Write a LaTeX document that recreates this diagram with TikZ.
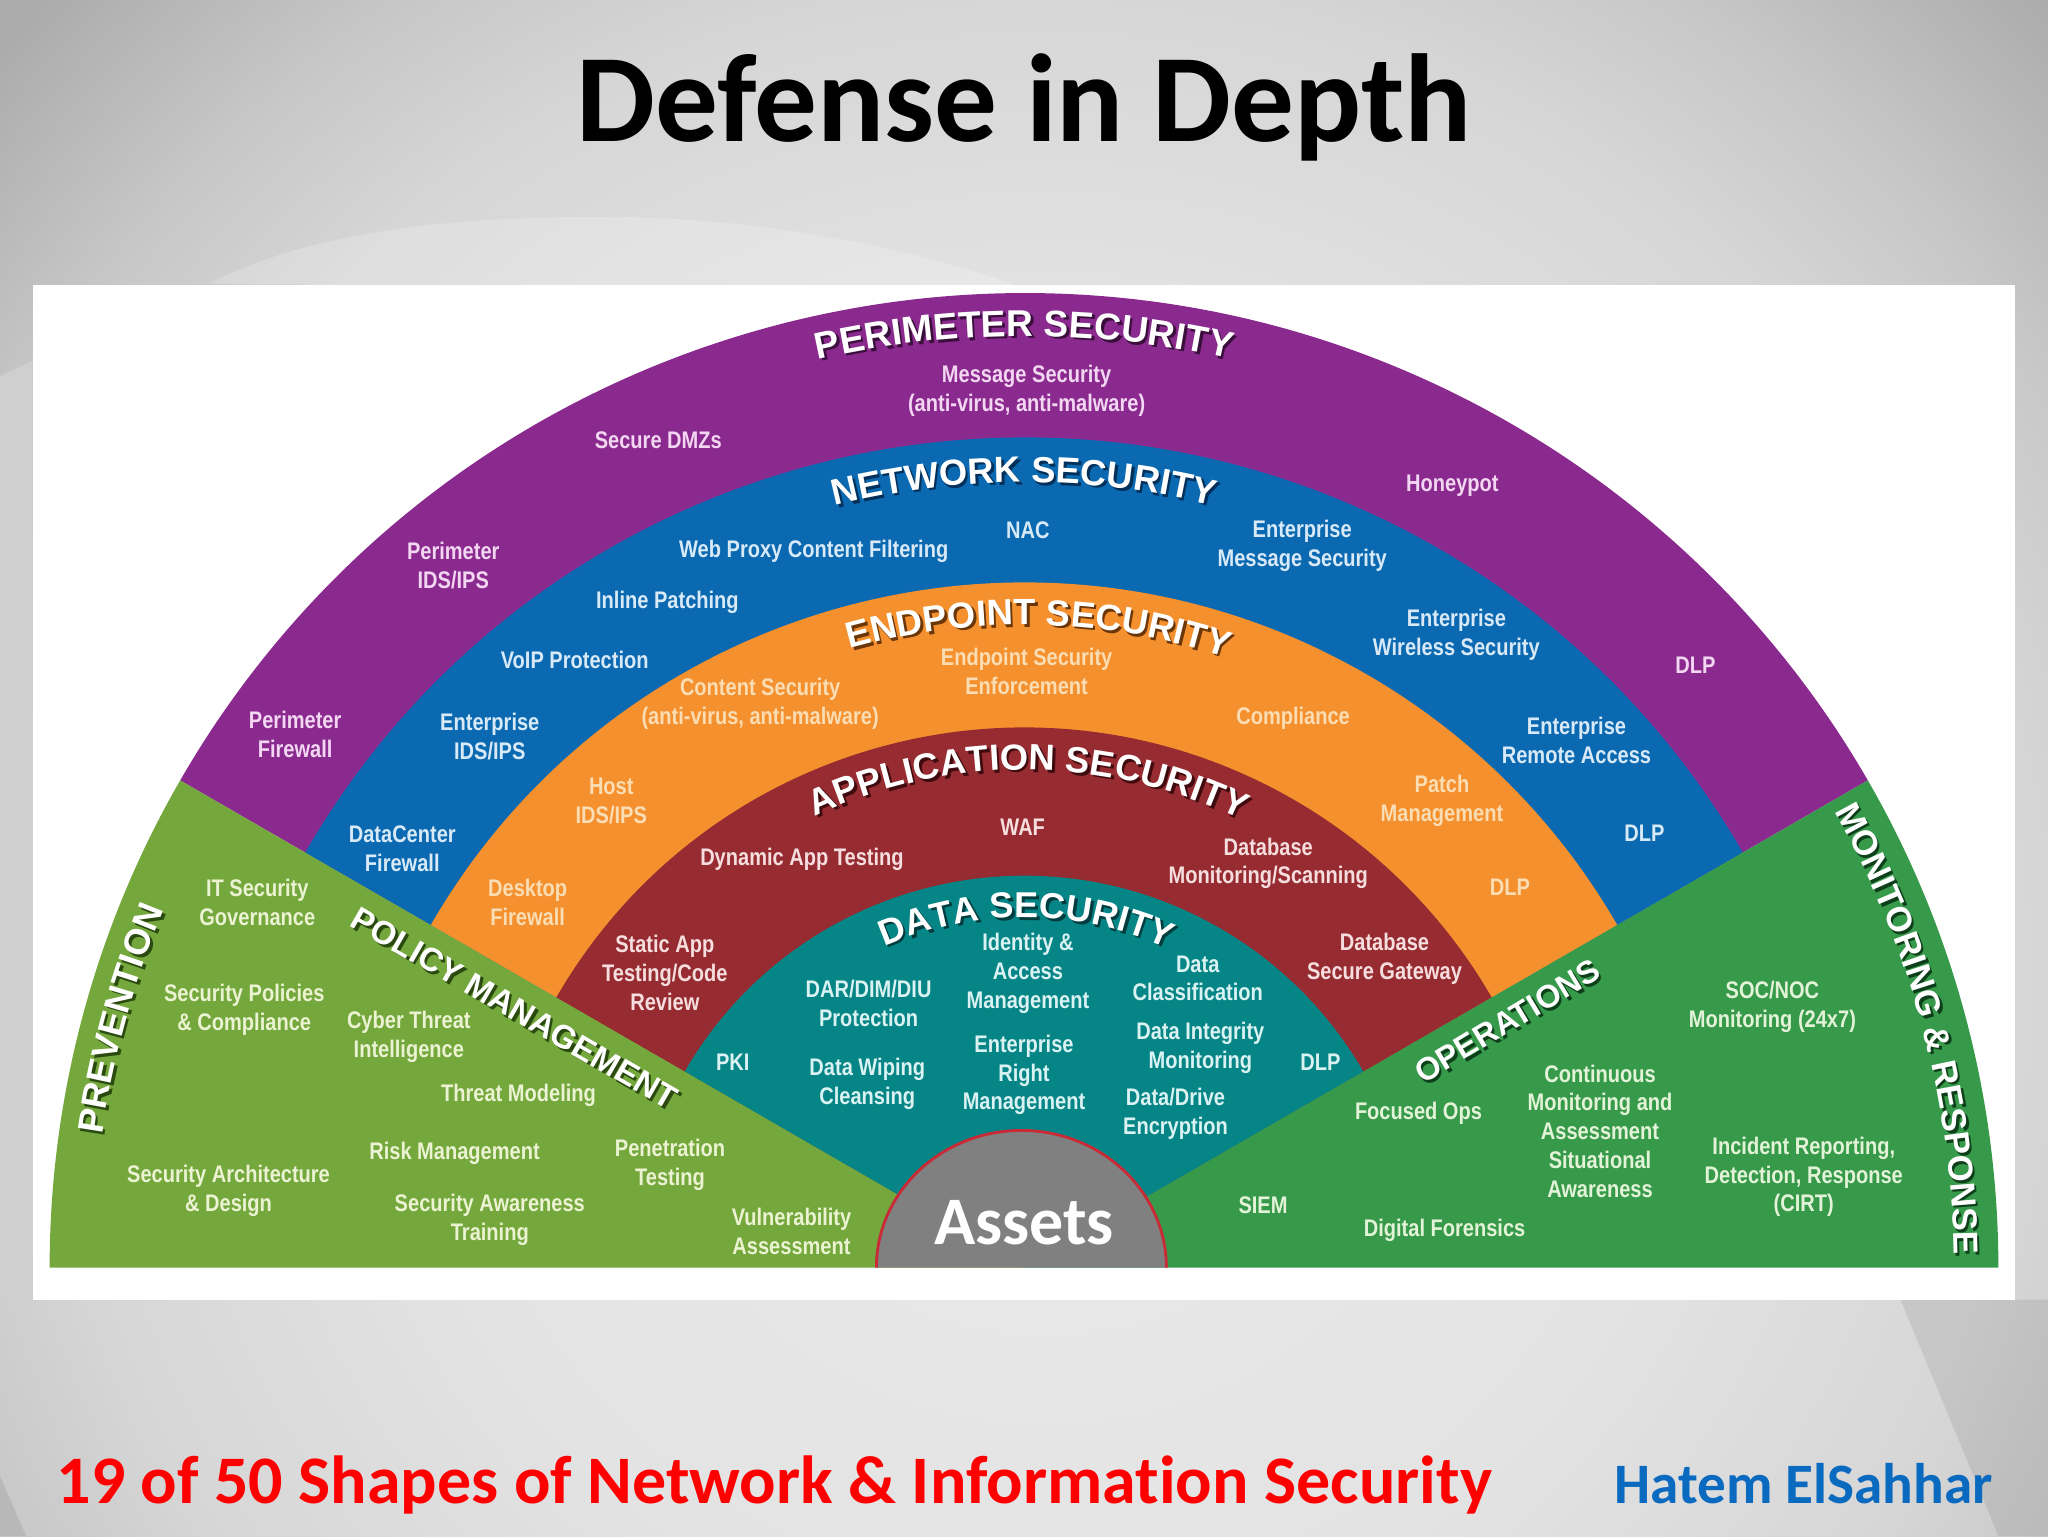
\documentclass[tikz,border=0pt]{standalone}
\usepackage{fontspec}
\usetikzlibrary{decorations.text}
\setmainfont{Liberation Sans}
\newfontfamily\labf[FakeStretch=0.835]{Liberation Sans}
\newfontfamily\headf{Liberation Sans}
\newfontfamily\slidef[Ligatures=NoCommon]{Carlito}
\definecolor{cPurple}{HTML}{8B2A8E}
\definecolor{cBlue}{HTML}{0A69B0}
\definecolor{cOrange}{HTML}{F5902E}
\definecolor{cMaroon}{HTML}{962B31}
\definecolor{cTeal}{HTML}{068587}
\definecolor{cGreenL}{HTML}{74A73C}
\definecolor{cGreenR}{HTML}{379A4A}
\definecolor{tPurple}{HTML}{F2D6F2}
\definecolor{tBlue}{HTML}{D8E9F7}
\definecolor{tOrange}{HTML}{FBDDB4}
\definecolor{tMaroon}{HTML}{F6DEDE}
\definecolor{tTeal}{HTML}{DAF2F2}
\definecolor{tGreenL}{HTML}{EBF3D2}
\definecolor{tGreenR}{HTML}{E3F3D8}
\definecolor{sPurple}{HTML}{3A0F3C}
\definecolor{sBlue}{HTML}{03305A}
\definecolor{sOrange}{HTML}{6B3608}
\definecolor{sMaroon}{HTML}{3F0B0E}
\definecolor{sTeal}{HTML}{013D3F}
\definecolor{sGreenL}{HTML}{2B4A10}
\definecolor{sGreenR}{HTML}{0E3F1A}
\definecolor{cRed}{HTML}{FF0000}
\definecolor{cAuthor}{HTML}{0A6ABF}
\definecolor{cRim}{HTML}{C92A35}
\pgfdeclareradialshading{slidebg}{\pgfpoint{0bp}{0bp}}{%
  color(0bp)=(black!8);color(12.5bp)=(black!11);color(19bp)=(black!16);
  color(22.5bp)=(black!22);color(27bp)=(black!33);color(50bp)=(black!33)}
\newcount\lbc
\newcommand\lb[4]{\global\advance\lbc by 1
  \node[labelnode,text=#1] (lb\the\lbc) at (#2,{1175-#3}) {#4};}
\newcommand\cpart[8]{% cx cy R a1 a2 color size text
  \path[decorate,decoration={text along path,text align=center,
    text={|\fontsize{#7}{#7}\selectfont\headf\bfseries\color{#6}|#8}}]
    ([shift={(#4:#3)}]#1,#2) arc[start angle=#4,end angle=#5,radius=#3];}
\newcommand\ctitle[6]{% R a1 a2 shadow size text
  \cpart{786}{203.5}{#1}{#2}{#3}{#4}{#5}{#6}
  \cpart{784}{205.5}{#1}{#2}{#3}{white}{#5}{#6}}
\tikzset{
  labelnode/.style={align=center,inner sep=0pt,font=\labf\bfseries\fontsize{12}{14.4}\selectfont},
  policytitle/.style={inner sep=0pt,font=\headf\bfseries\fontsize{16.4}{18}\selectfont},
  opstitle/.style={inner sep=0pt,font=\headf\bfseries\fontsize{16}{18}\selectfont}
}
\begin{document}
\begin{tikzpicture}[x=0.65306pt,y=0.65306pt]
\useasboundingbox (0,0) rectangle (1568,1176);
% background
\begin{scope}
\clip (0,0) rectangle (1568,1176);
\shade[shading=slidebg] (-200,-580) rectangle (1800,1420);
\fill[black!19] (0,888) -- (25,900) -- (25,181) -- (0,181) -- cycle;
\fill[white,opacity=.2] (160,959) .. controls (240,1000) and (350,1010) .. (460,1010) .. controls (600,1010) and (720,980) .. (800,950) -- cycle;
\fill[black,opacity=.08] (1455,181) -- (1530,0) -- (1568,0) -- (1568,181) -- cycle;
\fill[black,opacity=.08] (0,46) -- (20,0) -- (0,0) -- cycle;
\end{scope}
% white panel
\fill[white] (25,181) rectangle (1543,958);
% rings
\begin{scope}[shift={(784,205.5)}]
\fill[cPurple] (0,0) -- (150:746) arc[start angle=150,end angle=30,radius=746] -- cycle;
\fill[cBlue]   (0,0) -- (150:635.5) arc[start angle=150,end angle=30,radius=635.5] -- cycle;
\fill[cOrange] (0,0) -- (150:524.5) arc[start angle=150,end angle=30,radius=524.5] -- cycle;
\fill[cMaroon] (0,0) -- (150:413.5) arc[start angle=150,end angle=30,radius=413.5] -- cycle;
\fill[cTeal]   (0,0) -- (150:300) arc[start angle=150,end angle=30,radius=300] -- cycle;
\fill[cGreenL] (0,0) -- (180:746) arc[start angle=180,end angle=150,radius=746] -- cycle;
\fill[cGreenR] (0,0) -- (30:746) arc[start angle=30,end angle=0,radius=746] -- cycle;
\end{scope}
% assets
\filldraw[draw=cRim,line width=1.4pt,fill=black!50]
  (671,205.5) arc[start angle=180,end angle=0,x radius=111,y radius=105];
\node[inner sep=0pt,text=white,font=\slidef\bfseries\fontsize{34}{36}\selectfont,anchor=base] (assets) at (784,{1176-953}) {Assets};
% curved headings
\ctitle{713}{150}{30}{sPurple}{18.6}{PERIMETER SECURITY}
\ctitle{601}{150}{30}{sBlue}{18.2}{NETWORK SECURITY}
\ctitle{492}{153.7}{23.7}{sOrange}{18.2}{ENDPOINT SECURITY}
\ctitle{381}{164.5}{14.5}{sMaroon}{18.2}{APPLICATION SECURITY}
\ctitle{268}{174.6}{4.6}{sTeal}{18}{DATA SECURITY}
\ctitle{713}{189.6}{139.6}{sGreenL}{18}{PREVENTION}
\ctitle{712}{40.3}{-10.1}{sGreenR}{17.4}{MONITORING {\&} RESPONSE}
% straight headings
\node[policytitle,text=sGreenL,rotate=-30] (policyS) at (396,{1176-774}) {POLICY MANAGEMENT};
\node[policytitle,text=white,rotate=-30] (policy) at (394,{1176-772}) {POLICY MANAGEMENT};
\node[opstitle,text=sGreenR,rotate=31] (opsS) at (1156,{1176-784}) {OPERATIONS};
\node[opstitle,text=white,rotate=31] (ops) at (1154,{1176-782}) {OPERATIONS};
% perimeter
\lb{tPurple}{786}{298}{Message Security\\(anti-virus, anti-malware)}
\lb{tPurple}{504}{336}{Secure DMZs}
\lb{tPurple}{1112}{371}{Honeypot}
\lb{tPurple}{347}{432}{Perimeter\\IDS/IPS}
\lb{tPurple}{226}{561}{Perimeter\\Firewall}
\lb{tPurple}{1298}{508}{DLP}
% network
\lb{tBlue}{787}{405}{NAC}
\lb{tBlue}{623}{421}{Web Proxy Content Filtering}
\lb{tBlue}{997}{417}{Enterprise\\Message Security}
\lb{tBlue}{511}{460}{Inline Patching}
\lb{tBlue}{1115}{485}{Enterprise\\Wireless Security}
\lb{tBlue}{440}{504}{VoIP Protection}
\lb{tBlue}{375}{563}{Enterprise\\IDS/IPS}
\lb{tBlue}{1207}{566}{Enterprise\\Remote Access}
\lb{tBlue}{308}{649}{DataCenter\\Firewall}
\lb{tBlue}{1259}{637}{DLP}
% endpoint
\lb{tOrange}{786}{513}{Endpoint Security\\Enforcement}
\lb{tOrange}{582}{538}{Content Security\\(anti-virus, anti-malware)}
\lb{tOrange}{990}{549}{Compliance}
\lb{tOrange}{468}{612}{Host\\IDS/IPS}
\lb{tOrange}{1104}{612}{Patch\\Management}
\lb{tOrange}{404}{690}{Desktop\\Firewall}
\lb{tOrange}{1156}{678}{DLP}
% application
\lb{tMaroon}{783}{632}{WAF}
\lb{tMaroon}{614}{657}{Dynamic App Testing}
\lb{tMaroon}{971}{660}{Database\\Monitoring/Scanning}
\lb{tMaroon}{509}{744}{Static App\\Testing/Code\\Review}
\lb{tMaroon}{1060}{733}{Database\\Secure Gateway}
% data
\lb{tTeal}{787}{744}{Identity \&\\Access\\Management}
\lb{tTeal}{665}{767}{DAR/DIM/DIU\\Protection}
\lb{tTeal}{917}{748}{Data\\Classification}
\lb{tTeal}{919}{801}{Data Integrity\\Monitoring}
\lb{tTeal}{561}{812}{PKI}
\lb{tTeal}{1011}{812}{DLP}
\lb{tTeal}{664}{829}{Data Wiping\\Cleansing}
\lb{tTeal}{784}{822}{Enterprise\\Right\\Management}
\lb{tTeal}{900}{852}{Data/Drive\\Encryption}
% prevention
\lb{tGreenL}{197}{690}{IT Security\\Governance}
\lb{tGreenL}{187}{772}{Security Policies\\\& Compliance}
\lb{tGreenL}{313}{793}{Cyber Threat\\Intelligence}
\lb{tGreenL}{397}{838}{Threat Modeling}
\lb{tGreenL}{348}{882}{Risk Management}
\lb{tGreenL}{513}{891}{Penetration\\Testing}
\lb{tGreenL}{175}{911}{Security Architecture\\\& Design}
\lb{tGreenL}{375}{933}{Security Awareness\\Training}
\lb{tGreenL}{606}{942}{Vulnerability\\Assessment}
% operations
\lb{tGreenR}{1086}{851}{Focused Ops}
\lb{tGreenR}{1357}{770}{SOC/NOC\\Monitoring (24x7)}
\lb{tGreenR}{1225}{865}{Continuous\\Monitoring and\\Assessment\\Situational\\Awareness}
\lb{tGreenR}{1381}{900}{Incident Reporting,\\Detection, Response\\(CIRT)}
\lb{tGreenR}{967}{922}{SIEM}
\lb{tGreenR}{1106}{941}{Digital Forensics}
% slide texts
\node[inner sep=0pt,anchor=base,font=\slidef\bfseries\fontsize{62.6}{70}\selectfont] (title) at (784,{1176-108}) {Defense in Depth};
\node[inner sep=0pt,anchor=base west,text=cRed,font=\slidef\bfseries\fontsize{34}{40}\selectfont] (foot) at (43,{1176-1151}) {19 of 50 Shapes of Network \& Information Security};
\node[inner sep=0pt,anchor=base east,text=cAuthor,font=\slidef\bfseries\fontsize{28.6}{36}\selectfont] (author) at (1526,{1176-1151}) {Hatem ElSahhar};
\end{tikzpicture}
\end{document}
